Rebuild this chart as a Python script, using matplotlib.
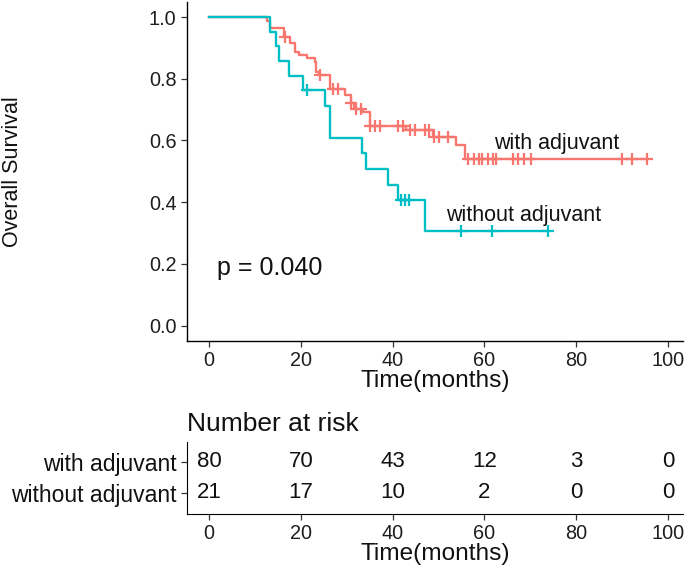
import numpy as np
import matplotlib
matplotlib.use("Agg")
import matplotlib.pyplot as plt

plt.rcParams['font.family'] = ['Liberation Sans', 'DejaVu Sans']

# ---- data ----
groups = ["with adjuvant", "without adjuvant"]
colors = ["#F8766D", "#00BFC4"]

# with adjuvant: event times and survival after each step
with_times = [12.6, 13.3, 16.3, 17.6, 18.7, 19.6, 21.4, 23.0, 23.4, 23.9, 26.3, 29.6,
              31.0, 31.7, 33.5, 35.0, 43.0, 48.8, 53.8, 55.7]
with_surv = [0.988, 0.963, 0.936, 0.915, 0.887, 0.877, 0.866, 0.855, 0.822, 0.812,
             0.768, 0.747, 0.720, 0.703, 0.693, 0.646, 0.633, 0.611, 0.584, 0.541]
with_censor = [16.5, 24.1, 27.0, 28.1, 31.0, 32.1, 33.2, 35.0, 36.1, 37.2, 41.2, 42.2,
               43.7, 44.8, 47.0, 48.0, 49.1, 50.2, 52.0, 56.4, 57.8, 58.8, 59.6, 60.7,
               61.8, 62.6, 66.2, 67.3, 68.7, 70.2, 90.1, 92.2, 95.4]

# without adjuvant
without_times = [13.3, 14.7, 15.3, 17.5, 20.4, 25.2, 26.4, 33.3, 34.3, 39.1, 41.1, 47.0]
without_surv = [0.952, 0.905, 0.857, 0.810, 0.762, 0.711, 0.609, 0.558, 0.507, 0.457,
                0.406, 0.305]
without_censor = [21.4, 41.9, 42.7, 43.6, 54.9, 61.6, 73.8]

risk_times = [0, 20, 40, 60, 80, 100]
risk_with = [80, 70, 43, 12, 3, 0]
risk_without = [21, 17, 10, 2, 0, 0]

p_text = "p = 0.040"

# ---- figure ----
W, H = 685, 570
fig = plt.figure(figsize=(W / 100, H / 100), dpi=100)
ax = fig.add_axes([187 / W, 1 - 341 / H, (683 - 187) / W, (341 - 1.6) / H])
xlim = (-4.8, 103.3)


def surv_at(t, times, surv):
    idx = np.searchsorted(np.asarray(times), np.asarray(t), side='right')
    s = np.concatenate([[1.0], surv])
    return s[idx]


series = [(with_times, with_surv, with_censor), (without_times, without_surv, without_censor)]
for (times, surv, cens), col in zip(series, colors):
    end = max(cens[-1], times[-1])
    xs = np.concatenate([[0.0], times, [end]])
    ys = np.concatenate([[1.0], surv, [surv[-1]]])
    ax.step(xs, ys, where='post', color=col, lw=1.7, zorder=3)
    ax.plot(cens, surv_at(cens, times, surv), ls='none', marker='+', ms=9, mew=1.6,
            color=col, zorder=4)

TXT = '#111111'
ax.set_xlim(*xlim)
ax.set_ylim(-0.05, 1.05)
ax.set_xticks(risk_times)
ax.set_yticks([0.0, 0.2, 0.4, 0.6, 0.8, 1.0])
ax.set_yticklabels([f"{v:.1f}" for v in [0.0, 0.2, 0.4, 0.6, 0.8, 1.0]])
for s in ['top', 'right']:
    ax.spines[s].set_visible(False)
for s in ['left', 'bottom']:
    ax.spines[s].set_linewidth(1.0)
ax.tick_params(direction='out', length=4, width=0.9, colors='#333333', labelsize=14.3,
               labelcolor='#1e1e1e')
ax.set_xlabel("Time(months)", fontsize=17.6, labelpad=0, color=TXT)
ax.set_ylabel("Overall Survival", fontsize=15.5, color=TXT)
ax.yaxis.set_label_coords(-0.33, 0.5)

ax.text(1.7, 0.188, p_text, fontsize=18, va='center', ha='left', color=TXT)
ax.text(62.2, 0.591, groups[0], fontsize=15.5, va='center', ha='left', color=TXT)
ax.text(51.7, 0.357, groups[1], fontsize=15.5, va='center', ha='left', color=TXT)

# ---- risk table ----
ax2 = fig.add_axes([187 / W, 1 - 514 / H, (683 - 187) / W, 72 / H])
ax2.set_xlim(*xlim)
ax2.set_ylim(0.32, 2.645)
for row, vals in zip([2, 1], [risk_with, risk_without]):
    for t, v in zip(risk_times, vals):
        ax2.text(t, row, str(v), ha='center', va='center', fontsize=16, color=TXT)
ax2.set_yticks([2, 1])
ax2.set_yticklabels(groups)
ax2.set_xticks(risk_times)
for s in ['top', 'right']:
    ax2.spines[s].set_visible(False)
ax2.tick_params(direction='out', length=4, width=0.9, colors='#333333', labelsize=14.3,
                labelcolor='#1e1e1e')
ax2.tick_params(axis='y', labelsize=16.5, labelcolor=TXT)
ax2.set_xlabel("Time(months)", fontsize=17.6, labelpad=0, color=TXT)
ax2.set_title("Number at risk", loc='left', fontsize=19, pad=8, color=TXT)

fig.savefig("out.png", dpi=100)
